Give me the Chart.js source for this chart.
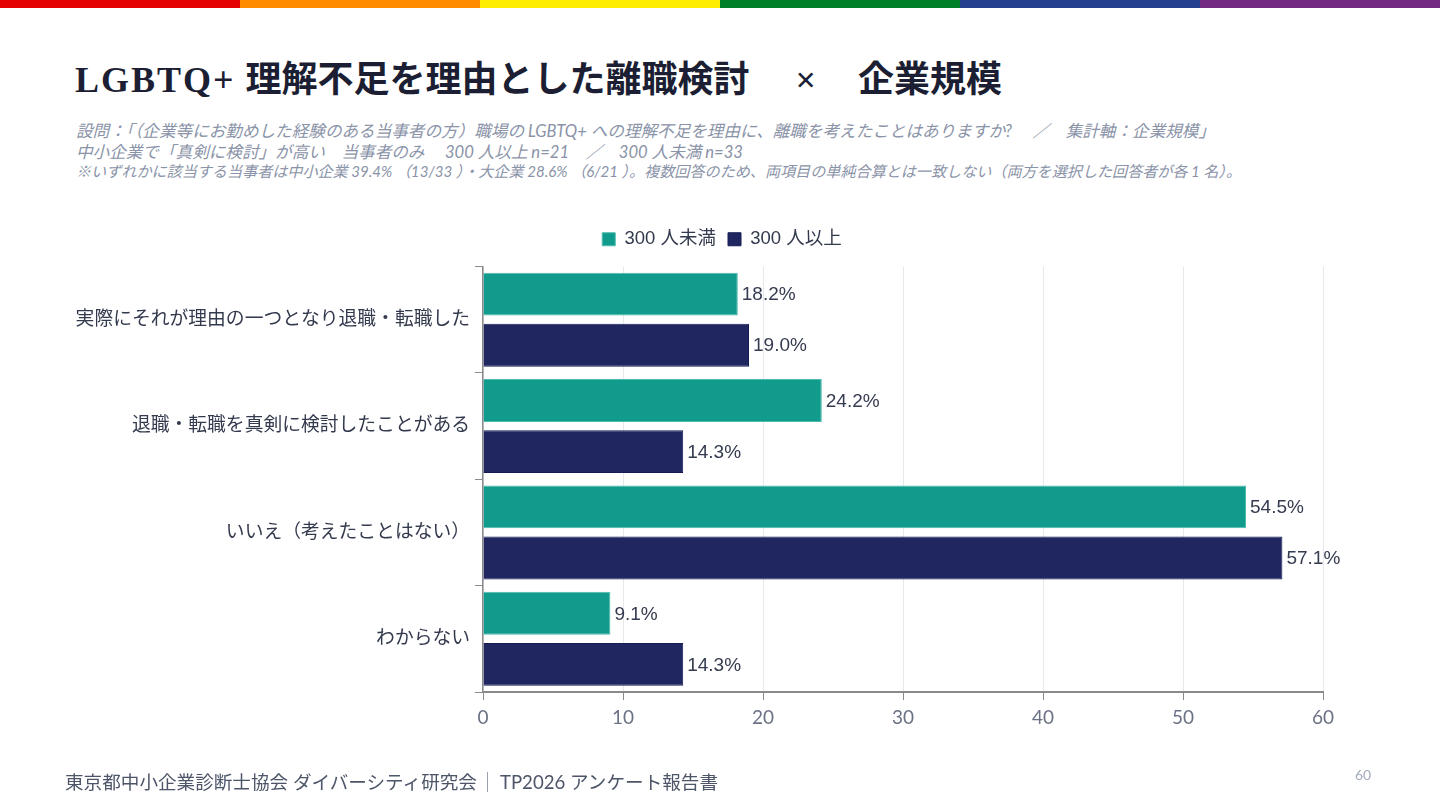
<!DOCTYPE html>
<html lang="ja">
<head>
  <meta charset="UTF-8">
  <title>LGBTQ+ 理解不足を理由とした離職検討 × 企業規模</title>
  <script src="https://cdn.jsdelivr.net/npm/chart.js"></script>
  <style>
    html, body { margin: 0; padding: 0; background: #fff; }
    body { width: 1440px; height: 810px; position: relative; overflow: hidden; font-family: Lato, "Noto Sans CJK JP", sans-serif; }
    .rainbow { position: absolute; left: 0; top: 0; width: 1440px; height: 8px; display: flex; }
    .rainbow div { flex: 1; }
    .title { position: absolute; left: 75px; top: 50px; margin: 0; font-size: 36px; font-weight: 700; color: #1c1f33; white-space: nowrap;
      font-family: "Liberation Serif", "Noto Sans CJK JP", serif; }
    .title .en { letter-spacing: 2px; margin-right: 1px; }
    .title .x { margin: 0 42px 0 46px; }
    .notes { position: absolute; left: 76px; top: 121px; color: #8a93a8; font-style: italic; white-space: nowrap; }
    .notes .l { font-size: 16.6px; line-height: 20.5px; }
    .notes .s { font-size: 15.1px; line-height: 19px; }
    .chart-box { position: absolute; left: 0; top: 0; width: 1440px; height: 810px; }
    .footer { position: absolute; left: 65px; top: 767px; font-size: 18.6px; color: #4d5568; white-space: nowrap; }
    .footer .sep { display: inline-block; width: 1px; height: 20px; background: #9aa0ad; vertical-align: -3px; margin: 0 12px 0 10px; }
    .page { position: absolute; left: 1355px; top: 766px; font-size: 14px; color: #a3abbd; }
  </style>
</head>
<body>
  <div class="rainbow">
    <div style="background:#e40303"></div>
    <div style="background:#ff8c00"></div>
    <div style="background:#ffed00"></div>
    <div style="background:#008026"></div>
    <div style="background:#24408e"></div>
    <div style="background:#732982"></div>
  </div>

  <h1 class="title"><span class="en">LGBTQ+</span> 理解不足を理由とした離職検討<span class="x">×</span>企業規模</h1>

  <div class="notes">
    <div class="l">設問：「（企業等にお勤めした経験のある当事者の方）職場の LGBTQ+ への理解不足を理由に、離職を考えたことはありますか?　 ／　集計軸：企業規模」</div>
    <div class="l">中小企業で「真剣に検討」が高い　当事者のみ　 300 人以上 n=21　／　300 人未満 n=33</div>
    <div class="s">※いずれかに該当する当事者は中小企業 39.4% （13/33 ）・大企業 28.6% （6/21 ）。複数回答のため、両項目の単純合算とは一致しない（両方を選択した回答者が各 1 名）。</div>
  </div>

  <div class="chart-box">
    <canvas id="sizeChart"></canvas>
  </div>

  <div class="footer">東京都中小企業診断士協会 ダイバーシティ研究会<span class="sep"></span>TP2026 アンケート報告書</div>
  <div class="page">60</div>

  <script>
    // 回答カテゴリ
    const categories = [
      '実際にそれが理由の一つとなり退職・転職した',
      '退職・転職を真剣に検討したことがある',
      'いいえ（考えたことはない）',
      'わからない'
    ];
    const seriesNames = ['300 人未満', '300 人以上'];
    const under300 = [18.2, 24.2, 54.5, 9.1];
    const over300 = [19.0, 14.3, 57.1, 14.3];
    const xTicks = [0, 10, 20, 30, 40, 50, 60];

    const labelFont = '"Liberation Sans", "Noto Sans CJK JP", sans-serif';

    // バーの右に値を表示
    const valueLabels = {
      id: 'valueLabels',
      afterDatasetsDraw(chart) {
        const ctx = chart.ctx;
        ctx.save();
        ctx.font = '19px ' + labelFont;
        ctx.fillStyle = '#353c50';
        ctx.textAlign = 'left';
        ctx.textBaseline = 'middle';
        chart.data.datasets.forEach((ds, i) => {
          chart.getDatasetMeta(i).data.forEach((bar, j) => {
            ctx.fillText(ds.data[j].toFixed(1) + '%', bar.x + 4, bar.y + 1);
          });
        });
        ctx.restore();
      }
    };

    // 凡例の下に余白を追加し、ページ全体の中央に置く
    const legendTweak = {
      id: 'legendTweak',
      beforeInit(chart) {
        const fit = chart.legend.fit;
        chart.legend.fit = function () {
          fit.bind(chart.legend)();
          this.height += 8;
        };
      },
      beforeDraw(chart) {
        chart.legend.left = 4;
        chart.legend.right = chart.width;
        chart.legend.width = chart.width - 4;
      }
    };

    new Chart(document.getElementById('sizeChart'), {
      type: 'bar',
      data: {
        labels: categories,
        datasets: [
          {
            label: seriesNames[0],
            data: under300,
            backgroundColor: '#119b8c',
            borderColor: '#4dbcaf',
            borderWidth: 1,
            categoryPercentage: 0.96,
            barPercentage: 0.84
          },
          {
            label: seriesNames[1],
            data: over300,
            backgroundColor: '#1f2660',
            borderColor: '#151c55',
            borderWidth: 1,
            categoryPercentage: 0.96,
            barPercentage: 0.84
          }
        ]
      },
      options: {
        indexAxis: 'y',
        responsive: true,
        maintainAspectRatio: false,
        animation: false,
        layout: {
          padding: { top: 218, right: 117, bottom: 78, left: 0 }
        },
        scales: {
          x: {
            min: 0,
            max: 60,
            afterBuildTicks(scale) {
              scale.ticks = xTicks.map(v => ({ value: v }));
            },
            afterFit(scale) {
              scale.height = 40;
            },
            grid: { color: '#e6e8ee', tickColor: '#8a8a8a', tickLength: 8 },
            border: { color: '#8a8a8a', width: 2 },
            ticks: { color: '#6b7285', font: { size: 19, family: 'Lato, sans-serif' }, padding: 6 }
          },
          y: {
            afterFit(scale) {
              scale.width = 483;
            },
            grid: { offset: true, drawOnChartArea: false, color: '#8a8a8a', tickLength: 8 },
            border: { color: '#8a8a8a', width: 1.5 },
            ticks: { color: '#333a4d', font: { size: 18.8, family: labelFont }, padding: 5 }
          }
        },
        plugins: {
          legend: {
            position: 'top',
            labels: {
              boxWidth: 13,
              boxHeight: 13,
              padding: 12,
              color: '#333a4d',
              font: { size: 18.5, family: labelFont }
            }
          },
          tooltip: { enabled: false }
        }
      },
      plugins: [valueLabels, legendTweak]
    });
  </script>
</body>
</html>
